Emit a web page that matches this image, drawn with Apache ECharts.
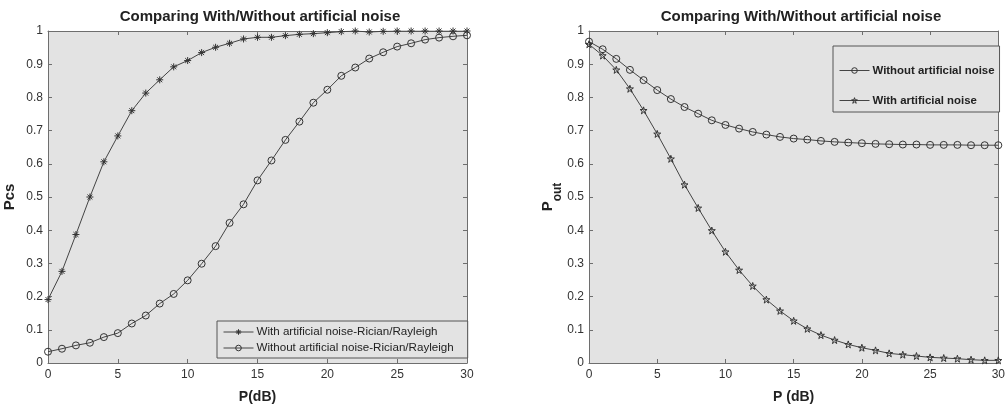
<!DOCTYPE html>
<html>
<head>
<meta charset="utf-8">
<script src="https://cdn.jsdelivr.net/npm/echarts@6/dist/echarts.min.js"></script>
<style>html,body{margin:0;padding:0;background:#fff}#c{width:1008px;height:409px}</style>
</head>
<body>
<div id="c"></div>
<script>
var P_dB = [0,1,2,3,4,5,6,7,8,9,10,11,12,13,14,15,16,17,18,19,20,21,22,23,24,25,26,27,28,29,30];
var pcsWithAN = [0.191,0.276,0.387,0.500,0.606,0.684,0.760,0.813,0.853,0.892,0.911,0.935,0.951,0.963,0.976,0.981,0.981,0.986,0.990,0.992,0.995,0.998,1.0,0.997,0.999,1.0,1.0,1.0,1.0,1.0,1.0];
var pcsWithoutAN = [0.034,0.043,0.053,0.061,0.078,0.090,0.119,0.143,0.179,0.208,0.249,0.299,0.352,0.422,0.478,0.550,0.610,0.672,0.727,0.784,0.823,0.865,0.890,0.917,0.936,0.953,0.963,0.974,0.980,0.984,0.987];
var poutWithoutAN = [0.968,0.945,0.916,0.883,0.852,0.822,0.795,0.771,0.751,0.731,0.717,0.706,0.696,0.688,0.681,0.676,0.673,0.669,0.666,0.664,0.662,0.660,0.659,0.658,0.658,0.657,0.657,0.657,0.656,0.656,0.656];
var poutWithAN = [0.960,0.926,0.883,0.826,0.761,0.690,0.615,0.537,0.467,0.399,0.335,0.280,0.232,0.191,0.157,0.127,0.103,0.084,0.069,0.056,0.046,0.038,0.029,0.025,0.021,0.017,0.015,0.013,0.010,0.008,0.008];
var xTicks = [0,5,10,15,20,25,30];
var yTicks = [0,0.1,0.2,0.3,0.4,0.5,0.6,0.7,0.8,0.9,1];

var titleText = 'Comparing With/Without artificial noise';
var leftNames = ['With artificial noise-Rician/Rayleigh','Without artificial noise-Rician/Rayleigh'];
var rightNames = ['Without artificial noise','With artificial noise'];

function pairs(xs, ys){ return xs.map(function(x,i){ return [x, ys[i]]; }); }

var FF = 'Liberation Sans, Arial, sans-serif';
var STAR_ASTERISK = 'path://M0,5L10,5M5,0L5,10M1.5,1.5L8.5,8.5M1.5,8.5L8.5,1.5';
var PENTAGRAM = 'path://M10,0L12.25,6.91L19.51,6.91L13.63,11.18L15.88,18.09L10,13.82L4.12,18.09L6.37,11.18L0.49,6.91L7.75,6.91Z';

function mkX(grid, pos, labels, name){
  return {
    type:'value', gridIndex:grid, position:pos, min:xTicks[0], max:xTicks[xTicks.length-1], interval:xTicks[1]-xTicks[0],
    axisLine:{show:true, onZero:false, lineStyle:{color:'#6e6e6e', width:1}},
    axisTick:{show:true, inside:true, length:4, lineStyle:{color:'#6e6e6e'}},
    axisLabel:{show:labels, color:'#333', fontFamily:FF, fontSize:12, margin:6, formatter:function(v){ return String(v); }},
    splitLine:{show:false},
    name: name || '', nameLocation:'middle', nameGap:27,
    nameTextStyle:{fontFamily:FF, fontWeight:'bold', fontSize:14, color:'#222'}
  };
}
function mkY(grid, pos, labels, name, rich){
  var o = {
    type:'value', gridIndex:grid, position:pos, min:yTicks[0], max:yTicks[yTicks.length-1], interval:0.1,
    axisLine:{show:true, onZero:false, lineStyle:{color:'#6e6e6e', width:1}},
    axisTick:{show:true, inside:true, length:4, lineStyle:{color:'#6e6e6e'}},
    axisLabel:{show:labels, color:'#333', fontFamily:FF, fontSize:12, margin:5, formatter:function(v){ return String(Math.round(v*10)/10); }},
    splitLine:{show:false},
    name: name || '', nameLocation:'middle', nameGap:31, nameRotate:90,
    nameTextStyle:{fontFamily:FF, fontWeight:'bold', fontSize:15, color:'#222'}
  };
  if (rich) o.nameTextStyle.rich = rich;
  return o;
}

var lineStyle = {color:'#444', width:1};
var hollow = {color:'rgba(0,0,0,0)', borderColor:'#333', borderWidth:1};

var option = {
  animation:false,
  backgroundColor:'#fff',
  title:[
    {text:titleText, left:255, top:4, textAlign:'center', textStyle:{fontFamily:FF, fontWeight:'bold', fontSize:15, color:'#222'}},
    {text:titleText, left:796, top:4, textAlign:'center', textStyle:{fontFamily:FF, fontWeight:'bold', fontSize:15, color:'#222'}}
  ],
  grid:[
    {left:48, right:541, top:31, bottom:37, show:true, backgroundColor:'#e3e3e3', borderWidth:0},
    {left:589, right:5, top:31, bottom:37, show:true, backgroundColor:'#e3e3e3', borderWidth:0}
  ],
  xAxis:[
    mkX(0,'bottom',true,'P(dB)'), mkX(0,'top',false),
    mkX(1,'bottom',true,'P (dB)'), mkX(1,'top',false)
  ],
  yAxis:[
    mkY(0,'left',true,'Pcs'), mkY(0,'right',false),
    mkY(1,'left',true,'{p|P}{s|out}', {p:{fontFamily:FF, fontWeight:'bold', fontSize:15, color:'#222', verticalAlign:'bottom', lineHeight:16}, s:{fontFamily:FF, fontWeight:'bold', fontSize:12, color:'#222', verticalAlign:'bottom', lineHeight:16, padding:[0,0,-8,0]}}),
    mkY(1,'right',false)
  ],
  legend:[
    {
      data:leftNames, orient:'vertical', left:217, top:321,
      padding:[5,14,4,6], itemGap:4, itemWidth:30, itemHeight:7,
      backgroundColor:'#e3e3e3', borderColor:'#555', borderWidth:1,
      itemStyle:{color:'rgba(0,0,0,0)', borderColor:'#333', borderWidth:1},
      lineStyle:{width:1, color:'#444'},
      textStyle:{fontFamily:FF, fontSize:11.6, color:'#222', padding:[0,0,0,-2]}
    },
    {
      data:rightNames, orient:'vertical', left:833, top:46,
      padding:[19,5,6,6], itemGap:19, itemWidth:30, itemHeight:7,
      backgroundColor:'#e3e3e3', borderColor:'#555', borderWidth:1,
      itemStyle:{color:'rgba(0,0,0,0)', borderColor:'#333', borderWidth:1},
      lineStyle:{width:1, color:'#444'},
      textStyle:{fontFamily:FF, fontSize:11.4, fontWeight:'bold', color:'#222', padding:[0,0,0,-2]}
    }
  ],
  series:[
    {name:leftNames[0], type:'line', xAxisIndex:0, yAxisIndex:0, data:pairs(P_dB,pcsWithAN), symbol:STAR_ASTERISK, symbolSize:7, showAllSymbol:true, lineStyle:lineStyle, itemStyle:hollow, color:'#333'},
    {name:leftNames[1], type:'line', xAxisIndex:0, yAxisIndex:0, data:pairs(P_dB,pcsWithoutAN), symbol:'circle', symbolSize:7, showAllSymbol:true, lineStyle:lineStyle, itemStyle:hollow, color:'#333'},
    {name:rightNames[0], type:'line', xAxisIndex:2, yAxisIndex:2, data:pairs(P_dB,poutWithoutAN), symbol:'circle', symbolSize:7, showAllSymbol:true, lineStyle:lineStyle, itemStyle:hollow, color:'#333'},
    {name:rightNames[1], type:'line', xAxisIndex:2, yAxisIndex:2, data:pairs(P_dB,poutWithAN), symbol:PENTAGRAM, symbolSize:7, showAllSymbol:true, lineStyle:lineStyle, itemStyle:hollow, color:'#333'}
  ]
};
var chart = echarts.init(document.getElementById('c'), null, {renderer:'canvas'});
chart.setOption(option);
</script>
</body>
</html>
